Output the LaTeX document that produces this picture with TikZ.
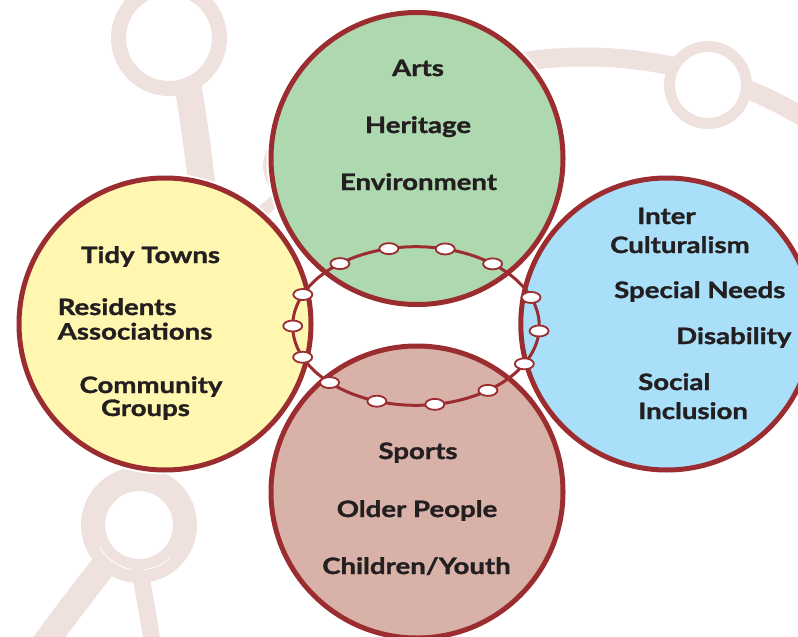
\documentclass[tikz,border=0pt]{standalone}
\usepackage{fontspec}
\setmainfont{Lato}
\newfontfamily\labfont{Lato}[FakeStretch=1.22, BoldFeatures={FakeBold=1.4}]
\usetikzlibrary{shapes.geometric}
\definecolor{ringred}{HTML}{9B2D31}
\definecolor{deco}{HTML}{EFE2DE}
\definecolor{cgreen}{HTML}{AED9B0}
\definecolor{cyellow}{HTML}{FFF7B0}
\definecolor{cblue}{HTML}{A9DFF8}
\definecolor{cpink}{HTML}{D8B2A8}
\definecolor{ink}{HTML}{231F20}
\tikzset{
  decoband/.style={draw=deco, line cap=butt},
  decoring/.style={draw=deco, fill=white},
  topic/.style={circle, minimum size=292pt, inner sep=0pt, draw=ringred, line width=5pt,
    preaction={draw=white, line width=9pt}},
  lab/.style={font=\labfont\bfseries\fontsize{22.6}{25}\selectfont, text=ink, inner sep=0pt},
  bead/.style={ellipse, draw=ringred, line width=1.8pt, fill=white,
    minimum width=19pt, minimum height=11pt, inner sep=0pt},
  loop/.style={ellipse, draw=ringred, line width=3pt, minimum width=246.6pt,
    minimum height=158.6pt, inner sep=0pt}
}
\begin{document}
\begin{tikzpicture}[x=1pt,y=-1pt]
\useasboundingbox (0,0) rectangle (798,637);
\clip (0,0) rectangle (798,637);
% background decoration
\draw[decoband, line width=19pt] (585,482) ++(-132:425) arc[start angle=-132, end angle=-35, radius=425];
\draw[decoband, line width=12pt] (288,188) -- (205,265);
\draw[decoband, line width=27pt] (187,80) .. controls (197,140) and (205,200) .. (212,290);
\draw[decoband, line width=26pt] (108,560) .. controls (85,590) and (65,615) .. (40,650);
\draw[decoband, line width=17pt] (140,570) .. controls (145,600) and (150,625) .. (153,650);
\node[decoring, circle, line width=11pt, minimum size=64pt, inner sep=0pt] (hid) at (300.6,166.2) {};
\node[decoring, circle, line width=15pt, minimum size=101pt, inner sep=0pt] (tl) at (169,38) {};
\node[decoring, circle, line width=11pt, minimum size=77pt, inner sep=0pt] (tr) at (708,85) {};
\node[decoring, circle, line width=24pt, minimum size=92pt, inner sep=0pt] (bl) at (139,525) {};
\draw[white, line width=0.8pt] (bl.center) ++(150:45) arc[start angle=150, end angle=98, radius=45];
\draw[white, line width=0.8pt] (bl.center) ++(84:45) arc[start angle=84, end angle=45, radius=45];
% main circles
\node[topic, fill=cgreen] (green) at (417,158.5) {};
\node[topic, fill=cyellow] (yellow) at (165,324) {};
\node[topic, fill=cblue] (blue) at (666.8,324) {};
\node[topic, fill=cpink] (pink) at (417,492) {};
% central loop with beads
\node[loop] (ring) at (416,326) {};
\foreach \t [count=\i] in {-128.1,-102.7,-76.3,-51.6,-21.1,3.6,28.5,54.3,81.2,108.5,134.5,156.8,180,203.4}
  \path (ring.center) ++(\t:123.3 and 79.3) node[bead] (b\i) {};
% texts
\node[lab, anchor=base] (t1) at (418,76) {Arts};
\node[lab, anchor=base] (t2) at (418,133) {Heritage};
\node[lab, anchor=base] (t3) at (418.5,190) {Environment};
\node[lab, anchor=base] (y1) at (150.5,263) {Tidy Towns};
\node[lab, anchor=base west] (y2) at (57.5,315) {Residents};
\node[lab, anchor=base west] (y3) at (57.5,339.5) {Associations};
\node[lab, anchor=base] (y4) at (151,393) {Community};
\node[lab, anchor=base] (y5) at (145.5,416) {Groups};
\node[lab, anchor=base west] (r1) at (637,224) {Inter};
\node[lab, anchor=base west] (r2) at (610,253) {Culturalism};
\node[lab, anchor=base west] (r3) at (614,298) {Special Needs};
\node[lab, anchor=base west] (r4) at (676,344) {Disability};
\node[lab, anchor=base west] (r5) at (638,390) {Social};
\node[lab, anchor=base west] (r6) at (638,419) {Inclusion};
\node[lab, anchor=base] (p1) at (418,459) {Sports};
\node[lab, anchor=base] (p2) at (417,517) {Older People};
\node[lab, anchor=base] (p3) at (416.5,574) {Children/Youth};
\end{tikzpicture}
\end{document}
